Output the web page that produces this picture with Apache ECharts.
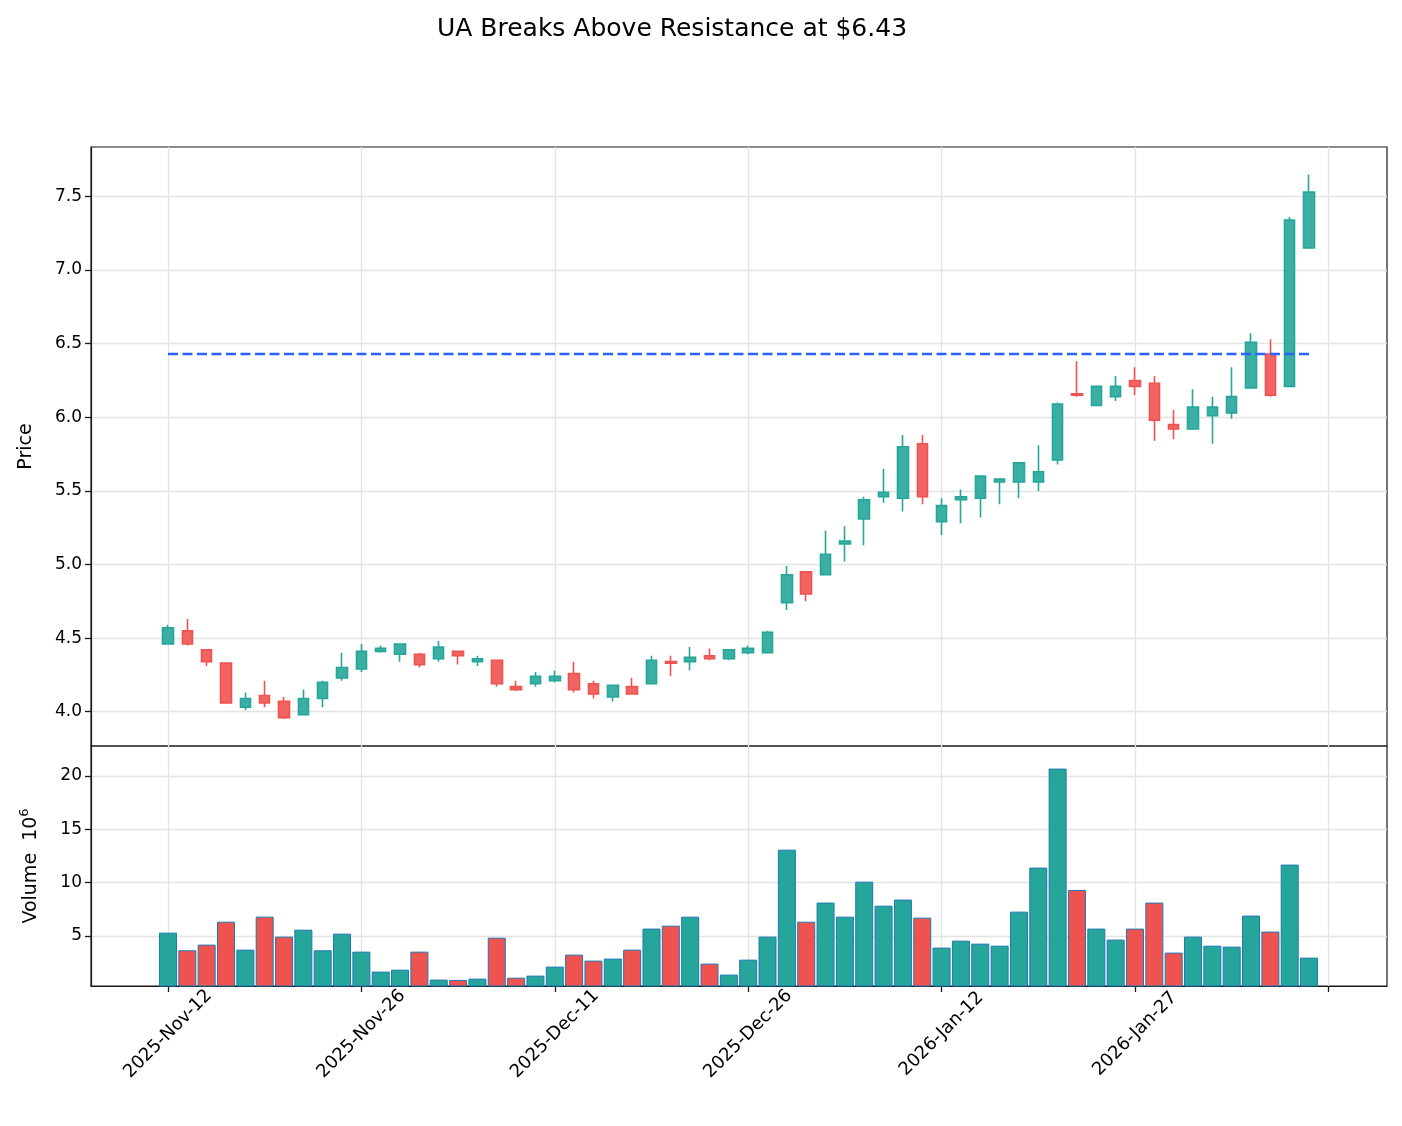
<!DOCTYPE html>
<html>
<head>
<meta charset="utf-8">
<title>UA Breaks Above Resistance at $6.43</title>
<script src="https://cdn.jsdelivr.net/npm/echarts@6/dist/echarts.min.js"></script>
<style>
  html, body { margin: 0; padding: 0; background: #fff; }
  #chart { width: 1402px; height: 1126px; }
</style>
</head>
<body>
<div id="chart"></div>
<script>
// Trading days (x positions are the index in this list)
const dates = [
  '2025-11-12','2025-11-13','2025-11-14','2025-11-17','2025-11-18','2025-11-19','2025-11-20','2025-11-21','2025-11-24','2025-11-25',
  '2025-11-26','2025-11-28','2025-12-01','2025-12-02','2025-12-03','2025-12-04','2025-12-05','2025-12-08','2025-12-09','2025-12-10',
  '2025-12-11','2025-12-12','2025-12-15','2025-12-16','2025-12-17','2025-12-18','2025-12-19','2025-12-22','2025-12-23','2025-12-24',
  '2025-12-26','2025-12-29','2025-12-30','2025-12-31','2026-01-02','2026-01-05','2026-01-06','2026-01-07','2026-01-08','2026-01-09',
  '2026-01-12','2026-01-13','2026-01-14','2026-01-15','2026-01-16','2026-01-20','2026-01-21','2026-01-22','2026-01-23','2026-01-26',
  '2026-01-27','2026-01-28','2026-01-29','2026-01-30','2026-02-02','2026-02-03','2026-02-04','2026-02-05','2026-02-06','2026-02-09'
];

const opens = [
  4.46, 4.55, 4.42, 4.33, 4.03, 4.11, 4.07, 3.98, 4.09, 4.23,
  4.29, 4.41, 4.39, 4.39, 4.36, 4.41, 4.34, 4.35, 4.17, 4.19,
  4.21, 4.26, 4.19, 4.10, 4.17, 4.19, 4.34, 4.34, 4.38, 4.36,
  4.40, 4.40, 4.74, 4.95, 4.93, 5.14, 5.31, 5.46, 5.45, 5.82,
  5.29, 5.44, 5.45, 5.56, 5.56, 5.56, 5.71, 6.16, 6.08, 6.14,
  6.25, 6.23, 5.95, 5.92, 6.01, 6.03, 6.20, 6.43, 6.21, 7.15
];
const highs = [
  4.59, 4.63, 4.42, 4.33, 4.13, 4.21, 4.10, 4.15, 4.21, 4.40,
  4.46, 4.45, 4.46, 4.40, 4.48, 4.41, 4.38, 4.35, 4.21, 4.27,
  4.28, 4.34, 4.21, 4.18, 4.23, 4.38, 4.38, 4.44, 4.43, 4.42,
  4.45, 4.55, 4.99, 4.95, 5.23, 5.26, 5.46, 5.65, 5.88, 5.88,
  5.45, 5.51, 5.60, 5.58, 5.69, 5.81, 6.10, 6.38, 6.21, 6.28,
  6.34, 6.28, 6.05, 6.19, 6.14, 6.34, 6.57, 6.53, 7.36, 7.65
];
const lows = [
  4.46, 4.45, 4.31, 4.06, 4.01, 4.03, 3.95, 3.98, 4.03, 4.21,
  4.27, 4.40, 4.34, 4.30, 4.34, 4.32, 4.31, 4.17, 4.14, 4.17,
  4.20, 4.13, 4.09, 4.07, 4.12, 4.19, 4.24, 4.28, 4.35, 4.35,
  4.39, 4.40, 4.69, 4.75, 4.93, 5.02, 5.13, 5.42, 5.36, 5.41,
  5.20, 5.28, 5.32, 5.41, 5.45, 5.50, 5.68, 6.14, 6.08, 6.11,
  6.15, 5.84, 5.85, 5.92, 5.82, 5.99, 6.20, 6.14, 6.21, 7.15
];
const closes = [
  4.57, 4.46, 4.34, 4.06, 4.09, 4.06, 3.96, 4.09, 4.20, 4.30,
  4.41, 4.43, 4.46, 4.32, 4.44, 4.38, 4.36, 4.19, 4.15, 4.24,
  4.24, 4.15, 4.12, 4.18, 4.12, 4.35, 4.33, 4.37, 4.36, 4.42,
  4.43, 4.54, 4.93, 4.80, 5.07, 5.16, 5.44, 5.49, 5.80, 5.46,
  5.40, 5.46, 5.60, 5.58, 5.69, 5.63, 6.09, 6.15, 6.21, 6.21,
  6.21, 5.98, 5.92, 6.07, 6.07, 6.14, 6.51, 6.15, 7.34, 7.53
];
// volume in millions of shares
const volumes = [
  5.31, 3.66, 4.19, 6.34, 3.72, 6.81, 4.94, 5.59, 3.66, 5.22,
  3.53, 1.66, 1.84, 3.53, 0.91, 0.88, 1.00, 4.84, 1.09, 1.28,
  2.13, 3.25, 2.69, 2.88, 3.72, 5.69, 5.97, 6.81, 2.41, 1.38,
  2.78, 4.94, 13.09, 6.34, 8.13, 6.81, 10.09, 7.84, 8.41, 6.72,
  3.91, 4.56, 4.28, 4.09, 7.28, 11.41, 20.69, 9.31, 5.69, 4.66,
  5.69, 8.13, 3.44, 4.94, 4.09, 4.00, 6.91, 5.41, 11.69, 2.97
];

const resistance = 6.43;
const priceTicks = [4.0, 4.5, 5.0, 5.5, 6.0, 6.5, 7.0, 7.5];
const volumeTicks = [5, 10, 15, 20];
const dateTicks = [0, 10, 20, 30, 40, 50, 60];
const dateLabels = [0, 10, 20, 30, 40, 50];

const UP = '#26a69a';
const DOWN = '#ef5350';
const GRID = '#e4e4e4';
const INK = '#1a1a1a';
const FONT = 'DejaVu Sans';
const MONTHS = ['Jan','Feb','Mar','Apr','May','Jun','Jul','Aug','Sep','Oct','Nov','Dec'];

function fmtDate(i) {
  const d = dates[Math.round(i)];
  if (!d) return '';
  const p = d.split('-');
  return p[0] + '-' + MONTHS[+p[1] - 1] + '-' + p[2];
}

const candleData = dates.map((d, i) => [i, opens[i], closes[i], lows[i], highs[i]]);
const volumeData = volumes.map((v, i) => ({
  value: [i, v],
  itemStyle: { color: closes[i] >= opens[i] ? UP : DOWN }
}));

const edgeLine = { show: true, onZero: false, lineStyle: { color: INK, width: 1.2 } };
const tickStyle = { show: true, inside: false, length: 6, lineStyle: { color: INK, width: 1.3 } };
const gridLine = { show: true, lineStyle: { color: GRID, width: 1.3 } };

const myChart = echarts.init(document.getElementById('chart'));

const option = {
  backgroundColor: '#fff',
  animation: false,
  title: {
    text: 'UA Breaks Above Resistance at $6.43',
    left: 667,
    top: 12,
    textAlign: 'center',
    textStyle: { fontFamily: FONT, fontSize: 25, fontWeight: 'normal', color: '#000' }
  },
  grid: [
    { left: 91, right: 15, top: 147, height: 599, show: true, borderColor: INK, borderWidth: 1.2, backgroundColor: 'transparent' },
    { left: 91, right: 15, top: 746, height: 240, show: true, borderColor: INK, borderWidth: 1.2, backgroundColor: 'transparent' }
  ],
  xAxis: [
    {
      type: 'value',
      gridIndex: 0,
      min: -3.98,
      max: 63.03,
      axisLine: { show: false, onZero: false },
      axisTick: { show: false, customValues: dateTicks },
      axisLabel: { show: false, customValues: dateTicks },
      splitLine: gridLine
    },
    {
      type: 'value',
      gridIndex: 1,
      min: -3.98,
      max: 63.03,
      axisLine: edgeLine,
      axisTick: Object.assign({ customValues: dateTicks }, tickStyle),
      axisLabel: {
        customValues: dateLabels,
        rotate: 45,
        align: 'center',
        verticalAlign: 'middle',
        margin: 48,
        fontFamily: FONT,
        fontSize: 18,
        color: '#000',
        formatter: v => fmtDate(v)
      },
      splitLine: gridLine
    }
  ],
  yAxis: [
    {
      type: 'value',
      gridIndex: 0,
      min: 3.767,
      max: 7.836,
      name: 'Price',
      nameLocation: 'middle',
      nameRotate: 90,
      nameGap: 55,
      nameTextStyle: { fontFamily: FONT, fontSize: 19, color: '#000' },
      axisLine: edgeLine,
      axisTick: Object.assign({ customValues: priceTicks }, tickStyle),
      axisLabel: { customValues: priceTicks, fontFamily: FONT, fontSize: 17, color: '#000', margin: 9, formatter: v => v.toFixed(1) },
      splitLine: gridLine
    },
    {
      type: 'value',
      gridIndex: 1,
      min: 0.31,
      max: 22.81,
      name: 'Volume  10{sup|6}',
      nameLocation: 'middle',
      nameRotate: 90,
      nameGap: 47,
      nameTextStyle: {
        fontFamily: FONT, fontSize: 19, color: '#000',
        rich: { sup: { fontFamily: FONT, fontSize: 13, color: '#000', padding: [0, 0, 13, 0] } }
      },
      axisLine: edgeLine,
      axisTick: Object.assign({ customValues: volumeTicks }, tickStyle),
      axisLabel: { customValues: volumeTicks, fontFamily: FONT, fontSize: 17, color: '#000', margin: 9 },
      splitLine: gridLine
    }
  ],
  series: [
    {
      name: 'UA',
      type: 'candlestick',
      xAxisIndex: 0,
      yAxisIndex: 0,
      data: candleData,
      encode: { x: 0, y: [1, 2, 3, 4] },
      barWidth: 11,
      itemStyle: {
        color: 'rgba(38,166,154,0.9)',
        color0: 'rgba(239,83,80,0.9)',
        borderColor: UP,
        borderColor0: DOWN,
        borderWidth: 1.6
      }
    },
    {
      name: 'Resistance',
      type: 'line',
      xAxisIndex: 0,
      yAxisIndex: 0,
      data: [[0, resistance], [dates.length - 1, resistance]],
      symbol: 'none',
      z: 5,
      lineStyle: { color: '#2962ff', width: 2.6, type: [10, 4.5] }
    },
    {
      name: 'Volume',
      type: 'bar',
      xAxisIndex: 1,
      yAxisIndex: 1,
      data: volumeData,
      barWidth: 18,
      itemStyle: { borderColor: '#1f77b4', borderWidth: 1 }
    }
  ]
};

myChart.setOption(option);
</script>
</body>
</html>
